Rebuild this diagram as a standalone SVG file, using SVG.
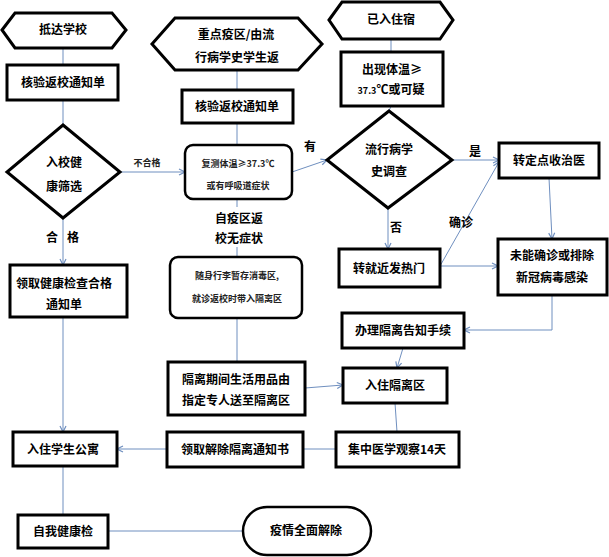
<svg xmlns="http://www.w3.org/2000/svg" width="609" height="557" viewBox="0 0 609 557">
<defs>
<style>
.n{fill:#fff;stroke:#000;stroke-width:3}
.r{fill:#fff;stroke:#000;stroke-width:2.5}
.t{font-family:"Noto Sans CJK SC","Liberation Sans",sans-serif;font-weight:bold;font-size:12px;fill:#000;text-anchor:middle}
.s{font-family:"Noto Sans CJK SC","Liberation Sans",sans-serif;font-weight:bold;font-size:9px;fill:#222;text-anchor:middle}
.c{fill:none;stroke:#6f8fbf;stroke-width:1}
.a{fill:none;stroke:#6f8fbf;stroke-width:1;marker-end:url(#ah)}
</style>
<marker id="ah" viewBox="0 0 8 8" refX="7" refY="4" markerWidth="8" markerHeight="8" markerUnits="userSpaceOnUse" orient="auto">
<path d="M1,1 L7,4 L1,7" fill="none" stroke="#6f8fbf" stroke-width="1.2"/>
</marker>
</defs>
<rect width="609" height="557" fill="#fff"/>
<g id="connectors">
<path class="c" d="M63,48 V65"/>
<path class="c" d="M63,100 V125"/>
<path class="a" d="M63,218 V265"/>
<path class="a" d="M63,317 V432"/>
<path class="c" d="M63,466 V515"/>
<path class="c" d="M108,531 H242"/>
<path class="a" d="M120,172 H185"/>
<path class="c" d="M237,70 V90"/>
<path class="c" d="M237,123 V145"/>
<path class="c" d="M237,199 V207 M237,247 V257"/>
<path class="c" d="M237,318 V362"/>
<path class="a" d="M305,388 L343,385"/>
<path class="a" d="M292,172 L327,160"/>
<path class="c" d="M391,39 V52"/>
<path class="c" d="M391,106 L389,111"/>
<path class="a" d="M452,160 H499"/>
<path class="a" d="M388,208 V249"/>
<path class="a" d="M440,266 H498"/>
<path class="a" d="M440,266 L499,162"/>
<path class="a" d="M549,178 L552,239"/>
<path class="a" d="M552,295 V330 H464"/>
<path class="a" d="M403,348 L397,368"/>
<path class="c" d="M395,403 L397,432"/>
<path class="c" d="M336,449 H303"/>
<path class="a" d="M167,449 H117"/>
<text class="s" x="147" y="166">不合格</text>
<text class="t" x="52" y="242">合</text>
<text class="t" x="73" y="242">格</text>
<text class="t" x="239" y="223">自疫区返</text>
<text class="t" x="239" y="243">校无症状</text>
<text class="t" x="310" y="151">有</text>
<text class="t" x="475" y="156">是</text>
<text class="t" x="396" y="232">否</text>
<text class="t" x="461" y="227">确诊</text>
</g>
<g id="n1"><polygon class="n" points="2,30 15,13 112,13 126,30 112,48 15,48"/><text class="t" x="63" y="34">抵达学校</text></g>
<g id="n2"><rect class="n" x="7" y="65" width="111" height="35"/><text class="t" x="63" y="87">核验返校通知单</text></g>
<g id="n3"><polygon class="n" points="63,125 120,172 63,218 7,172"/><text class="t" x="64" y="167">入校健</text><text class="t" x="64" y="191">康筛选</text></g>
<g id="n4"><rect class="n" x="10" y="265" width="117" height="52"/><text class="t" x="64" y="288">领取健康检查合格</text><text class="t" x="64" y="309">通知单</text></g>
<g id="n5"><rect class="n" x="13" y="432" width="104" height="34"/><text class="t" x="63" y="454">入住学生公寓</text></g>
<g id="n6"><rect class="n" x="18" y="515" width="90" height="33"/><text class="t" x="63" y="536">自我健康检</text></g>
<g id="n7"><rect class="r" x="243" y="507" width="128" height="48" rx="24"/><text class="t" x="306" y="535">疫情全面解除</text></g>
<g id="n8"><polygon class="n" points="152,44 175,18 298,18 322,44 298,70 175,70"/><text class="t" x="236" y="39">重点疫区/由流</text><text class="t" x="237" y="62">行病学史学生返</text></g>
<g id="n9"><rect class="n" x="182" y="90" width="111" height="33"/><text class="t" x="237" y="111">核验返校通知单</text></g>
<g id="n10"><rect class="r" x="185" y="145" width="107" height="54" rx="8"/><text class="s" x="238" y="167">复测体温≥37.3℃</text><text class="s" x="238" y="189">或有呼吸道症状</text></g>
<g id="n11"><rect class="r" x="170" y="257" width="132" height="61" rx="8"/><text class="s" x="237" y="279">随身行李暂存消毒区,</text><text class="s" x="237" y="302">就诊返校时带入隔离区</text></g>
<g id="n12"><rect class="n" x="168" y="362" width="137" height="53"/><text class="t" x="236" y="384">隔离期间生活用品由</text><text class="t" x="236" y="405">指定专人送至隔离区</text></g>
<g id="n13"><rect class="n" x="167" y="432" width="136" height="35"/><text class="t" x="235" y="454">领取解除隔离通知书</text></g>
<g id="n14"><polygon class="n" points="329,20 342,2 440,2 453,20 440,39 342,39"/><text class="t" x="391" y="24">已入住宿</text></g>
<g id="n15"><rect class="n" x="341" y="52" width="102" height="54"/><text class="t" x="392" y="74">出现体温≥</text><text class="t" x="391" y="94"><tspan font-size="9px">37.3</tspan>℃或可疑</text></g>
<g id="n16"><polygon class="n" points="389,111 452,160 388,208 327,160"/><text class="t" x="389" y="154">流行病学</text><text class="t" x="389" y="176">史调查</text></g>
<g id="n17"><rect class="n" x="499" y="143" width="100" height="35"/><text class="t" x="549" y="165">转定点收治医</text></g>
<g id="n18"><rect class="n" x="339" y="249" width="101" height="38"/><text class="t" x="389" y="273">转就近发热门</text></g>
<g id="n19"><rect class="n" x="498" y="239" width="109" height="56"/><text class="t" x="552" y="260">未能确诊或排除</text><text class="t" x="552" y="282">新冠病毒感染</text></g>
<g id="n20"><rect class="n" x="342" y="313" width="122" height="35"/><text class="t" x="403" y="335">办理隔离告知手续</text></g>
<g id="n21"><rect class="n" x="343" y="368" width="104" height="35"/><text class="t" x="395" y="390">入住隔离区</text></g>
<g id="n22"><rect class="n" x="336" y="432" width="123" height="35"/><text class="t" x="397" y="454">集中医学观察14天</text></g>
</svg>
